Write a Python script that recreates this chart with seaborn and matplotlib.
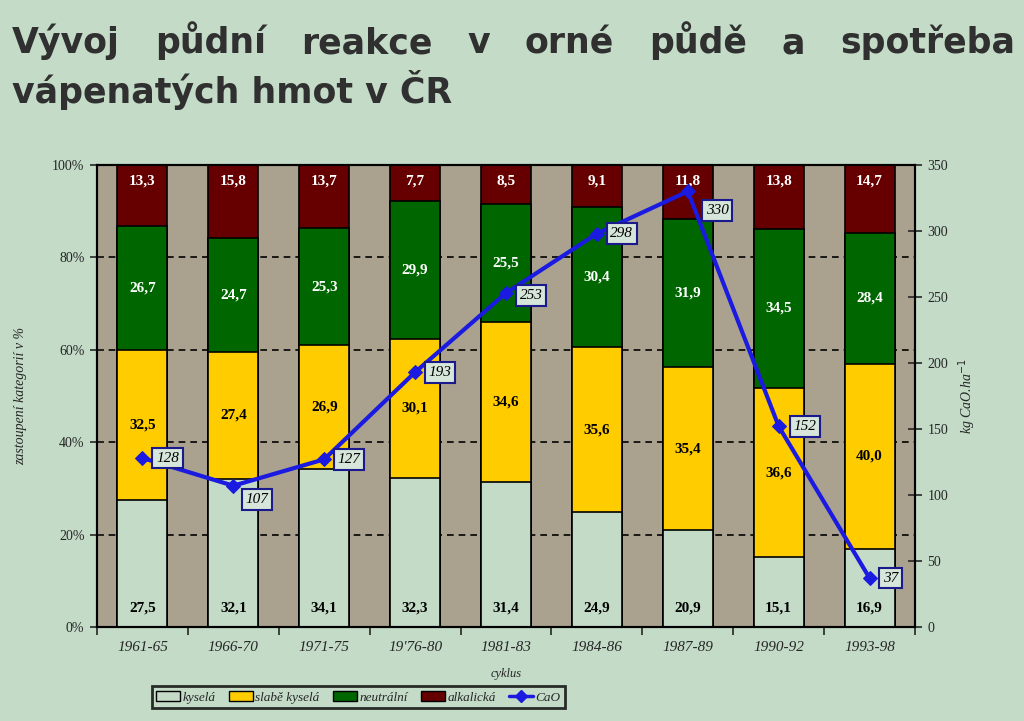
import numpy as np
import pandas as pd
import matplotlib
matplotlib.use("Agg")
import matplotlib.pyplot as plt
import seaborn as sns
from matplotlib.patches import Patch
from matplotlib.lines import Line2D

# ---- data ----
cycles = ["1961-65", "1966-70", "1971-75", "19'76-80", "1981-83", "1984-86", "1987-89", "1990-92", "1993-98"]
kysela = [27.5, 32.1, 34.1, 32.3, 31.4, 24.9, 20.9, 15.1, 16.9]
slabe_kysela = [32.5, 27.4, 26.9, 30.1, 34.6, 35.6, 35.4, 36.6, 40.0]
neutralni = [26.7, 24.7, 25.3, 29.9, 25.5, 30.4, 31.9, 34.5, 28.4]
alkalicka = [13.3, 15.8, 13.7, 7.7, 8.5, 9.1, 11.8, 13.8, 14.7]
cao = [128, 107, 127, 193, 253, 298, 330, 152, 37]
series_names = ["kyselá", "slabě kyselá", "neutrální", "alkalická"]

# ---- style ----
BG = "#c3dbc7"
PLOT_BG = "#aaa28f"
C_KYS = "#c3dbc7"
C_SLAB = "#ffcc00"
C_NEU = "#006600"
C_ALK = "#660000"
C_BLUE = "#1a1ae0"
TXT = "#303030"

sns.set_style("white")
plt.rcParams["font.family"] = ["Liberation Serif", "DejaVu Serif"]

fig = plt.figure(figsize=(10.24, 7.21), dpi=100, facecolor=BG)
ax = fig.add_axes([0.0947, 0.1304, 0.7989, 0.6408])
ax.set_facecolor(PLOT_BG)

df = pd.DataFrame({"cyklus": cycles, "k": kysela, "s": slabe_kysela, "n": neutralni, "a": alkalicka})
df["c1"] = df["k"]
df["c2"] = df["k"] + df["s"]
df["c3"] = df["c2"] + df["n"]
df["c4"] = df["c3"] + df["a"]

for col, colr in [("c4", C_ALK), ("c3", C_NEU), ("c2", C_SLAB), ("c1", C_KYS)]:
    sns.barplot(data=df, x="cyklus", y=col, color=colr, saturation=1, width=0.55,
                edgecolor="black", linewidth=1.2, errorbar=None, ax=ax, zorder=2)

ax.set_ylim(0, 100)
ax.set_xlim(-0.5, len(cycles) - 0.5)
ax.set_yticks(np.arange(0, 101, 20))
ax.set_yticklabels([f"{v}%" for v in range(0, 101, 20)], fontsize=10)
ax.yaxis.grid(True, linestyle=(0, (4, 3)), color="black", linewidth=1.2)
ax.xaxis.grid(False)
ax.set_axisbelow(True)
for sp in ax.spines.values():
    sp.set_color("black")
    sp.set_linewidth(1.5)
    sp.set_visible(True)
ax.tick_params(axis="y", direction="inout", length=10, width=1.2, left=True, pad=4)
ax.set_xticks(range(len(cycles)))
ax.set_xticklabels(cycles, fontsize=11, fontstyle="italic")
ax.set_xticks(np.arange(-0.5, len(cycles) - 0.4, 1), minor=True)
ax.tick_params(axis="x", which="major", length=0, pad=10)
ax.tick_params(axis="x", which="minor", direction="out", length=6, width=1.2, bottom=True)
ax.set_xlabel("cyklus", fontsize=9, fontstyle="italic", labelpad=10)
ax.set_ylabel("zastoupení kategorií v %", fontsize=10, fontstyle="italic", labelpad=18)

# bar labels
def fmt(v):
    return f"{v:.1f}".replace(".", ",")

for i in range(len(cycles)):
    ax.text(i, 4, fmt(kysela[i]), ha="center", va="center", fontsize=11, fontweight="bold", color="black", zorder=5)
    ax.text(i, kysela[i] + slabe_kysela[i] / 2, fmt(slabe_kysela[i]), ha="center", va="center",
            fontsize=11, fontweight="bold", color="black", zorder=5)
    ax.text(i, kysela[i] + slabe_kysela[i] + neutralni[i] / 2, fmt(neutralni[i]), ha="center", va="center",
            fontsize=11, fontweight="bold", color="white", zorder=5)
    ax.text(i, 96.5, fmt(alkalicka[i]), ha="center", va="center", fontsize=11, fontweight="bold",
            color="white", zorder=5)

# CaO line
ax2 = ax.twinx()
ax2.set_ylim(0, 350)
sns.lineplot(x=np.arange(len(cycles)), y=cao, ax=ax2, color=C_BLUE, linewidth=3, marker="D",
             markersize=7, markeredgecolor=C_BLUE, zorder=6)
ax2.set_xlim(-0.5, len(cycles) - 0.5)
ax2.set_yticks(np.arange(0, 351, 50))
ax2.set_yticklabels([str(v) for v in range(0, 351, 50)], fontsize=10)
ax2.tick_params(axis="y", direction="inout", length=10, width=1.2, right=True, pad=4)
ax2.set_ylabel("kg CaO.ha$^{-1}$", fontsize=10, fontstyle="italic", labelpad=6)
for sp in ax2.spines.values():
    sp.set_color("black")
    sp.set_linewidth(1.5)

offsets = [(18, 0), (17, -10), (18, 0), (18, 0), (18, -2), (18, 0), (21, -14), (19, 0), (15, 0)]
for i, v in enumerate(cao):
    ax2.annotate(str(v), (i, v), xytext=offsets[i], textcoords="offset points", ha="center", va="center",
                 fontsize=11, fontstyle="italic", color="black", zorder=7,
                 bbox=dict(boxstyle="square,pad=0.25", fc="#d6e6da", ec="#1a1a8c", lw=1.5))

# legend
handles = [Patch(facecolor=c, edgecolor="black", linewidth=1) for c in [C_KYS, C_SLAB, C_NEU, C_ALK]]
handles.append(Line2D([0], [0], color=C_BLUE, lw=2.5, marker="D", markersize=6))
leg = fig.legend(handles, series_names + ["CaO"], loc="center", bbox_to_anchor=(0.35, 0.033), ncol=5,
                 frameon=True, fancybox=False, edgecolor="black", facecolor=BG,
                 prop={"style": "italic", "size": 9.5}, handlelength=1.8, handleheight=0.8,
                 columnspacing=1.0, handletextpad=0.2, borderpad=0.35)
leg.get_frame().set_linewidth(2)

# title (justified first line)
title_fs = 25
line1 = "Vývoj půdní reakce v orné půdě a spotřeba".split()
line2 = "vápenatých hmot v ČR"
fig.canvas.draw()
renderer = fig.canvas.get_renderer()
W = fig.get_figwidth() * fig.dpi
x0, x1 = 12, 1015
widths = []
texts = []
for w in line1:
    t = fig.text(0, 1 - 53 / 721, w, fontsize=title_fs, fontweight="bold", color=TXT,
                 family="DejaVu Sans", ha="left", va="baseline")
    texts.append(t)
    widths.append(t.get_window_extent(renderer).width)
gap = (x1 - x0 - sum(widths)) / (len(line1) - 1)
x = x0
for t, wd in zip(texts, widths):
    t.set_x(x / W)
    x += wd + gap
fig.text(x0 / W, 1 - 103 / 721, line2, fontsize=title_fs, fontweight="bold", color=TXT,
         family="DejaVu Sans", ha="left", va="baseline")

fig.savefig("out.png", dpi=100, facecolor=BG)
